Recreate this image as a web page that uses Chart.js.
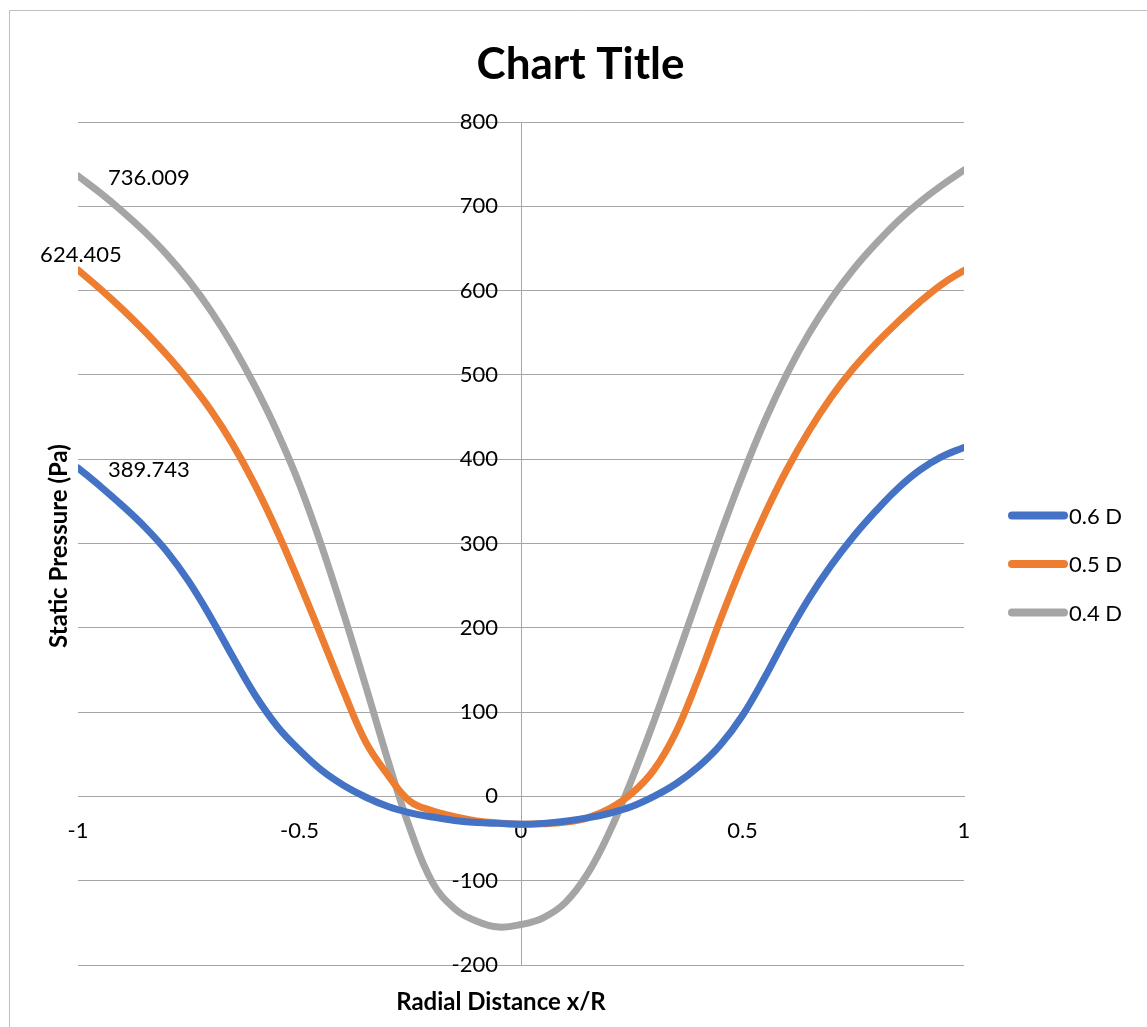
<!DOCTYPE html>
<html>
<head>
<meta charset="utf-8">
<script src="https://cdn.jsdelivr.net/npm/chart.js@4.4.1/dist/chart.umd.min.js"></script>
<style>
html,body{margin:0;padding:0;background:#ffffff;}
canvas{display:block;}
</style>
</head>
<body>
<canvas id="c" width="1147" height="1027"></canvas>
<script>
// ---------- DATA ----------
const xValues = [-1.00,-0.95,-0.90,-0.85,-0.80,-0.75,-0.70,-0.65,-0.60,-0.55,-0.50,-0.45,-0.40,-0.35,-0.30,-0.25,-0.20,-0.15,-0.10,-0.05,
                 0.00,0.05,0.10,0.15,0.20,0.25,0.30,0.35,0.40,0.45,0.50,0.55,0.60,0.65,0.70,0.75,0.80,0.85,0.90,0.95,1.00];
const series06 = [389.743,368,345,320,291,255,212,165,120,83,55,31,13,-1,-12,-19.5,-24.5,-28.5,-31,-32,
                  -33,-32,-29.5,-25.5,-20,-12,0,15,35,61,96,141,190,235,274,308,338,365,387,403,414];
const series05 = [624.405,602,578,552,524,493,458,417,369,314,253,189,124,64,25,-6,-17,-24,-29,-31.5,
                  -33,-32.5,-30.5,-25.5,-14.5,3.5,31.5,76.5,139.5,209.5,275.5,334.5,387.5,433.5,473.5,507.5,536.5,562.5,586.5,607.5,624];
const series04 = [736.009,716,694,670,643,612,576,534,486,432,370,297,216,130,42,-39,-102,-133,-148,-155,
                  -152,-144,-126,-92,-42,20,89,162,237,311,381,445,501,549,590,625,655,682,705,725,743];
const seriesNames = ['0.6 D', '0.5 D', '0.4 D'];
const xTickValues = [-1, -0.5, 0, 0.5, 1];
const yTickValues = [-200, -100, 0, 100, 200, 300, 400, 500, 600, 700, 800];
const chartTitle = 'Chart Title';
const xAxisTitle = 'Radial Distance x/R';
const yAxisTitle = 'Static Pressure (Pa)';

// ---------- STYLE ----------
const colors = ['#4472C4', '#ED7D31', '#A5A5A5'];
const FONT = 'Lato';
const gridColor = '#a6a6a6';
const yLabelAnchor = -0.052;   // y tick labels sit just left of the vertical axis
const labelStyle = [
  {dx: 30, dy: 9, align: 'left'},
  {dx: 3, dy: -8, align: 'center'},
  {dx: 30, dy: 9, align: 'left'}
];

const seriesList = [series06, series05, series04];
const datasets = seriesList.map((s, i) => ({
  label: seriesNames[i],
  data: xValues.map((x, k) => ({x: x, y: s[k]})),
  borderColor: colors[i],
  backgroundColor: colors[i],
  borderWidth: 7,
  borderCapStyle: 'round',
  borderJoinStyle: 'round',
  pointRadius: 0,
  pointHoverRadius: 0,
  showLine: true,
  tension: 0.4,
  fill: false
}));

const decorPlugin = {
  id: 'decor',
  beforeDraw(chart) {
    const ctx = chart.ctx;
    ctx.save();
    ctx.fillStyle = '#ffffff';
    ctx.fillRect(0, 0, chart.width, chart.height);
    ctx.strokeStyle = '#bfbfbf';
    ctx.lineWidth = 1;
    ctx.beginPath();
    ctx.moveTo(9.5, chart.height);
    ctx.lineTo(9.5, 10.5);
    ctx.lineTo(chart.width, 10.5);
    ctx.stroke();
    ctx.restore();
  },
  afterDatasetsDraw(chart) {
    const ctx = chart.ctx;
    ctx.save();
    ctx.fillStyle = '#000000';
    ctx.font = '22px ' + FONT;
    ctx.textBaseline = 'alphabetic';
    chart.data.datasets.forEach((ds, i) => {
      const pt = chart.getDatasetMeta(i).data[0];
      const st = labelStyle[i];
      ctx.textAlign = st.align;
      ctx.fillText(String(ds.data[0].y), pt.x + st.dx, pt.y + st.dy);
    });
    ctx.font = 'bold 44px ' + FONT;
    ctx.textAlign = 'center';
    ctx.fillText(chartTitle, 580.5, 79);
    ctx.font = 'bold 24px ' + FONT;
    ctx.textBaseline = 'middle';
    ctx.fillText(xAxisTitle, 501, 1002);
    ctx.save();
    ctx.translate(59, 546);
    ctx.rotate(-Math.PI / 2);
    ctx.fillText(yAxisTitle, 0, 0);
    ctx.restore();
    ctx.font = '22px ' + FONT;
    ctx.textAlign = 'left';
    ctx.textBaseline = 'middle';
    chart.data.datasets.forEach((ds, i) => {
      const y = 515.5 + i * 48.5;
      ctx.strokeStyle = ds.borderColor;
      ctx.lineWidth = 8;
      ctx.lineCap = 'round';
      ctx.beginPath();
      ctx.moveTo(1012, y);
      ctx.lineTo(1064, y);
      ctx.stroke();
      ctx.fillStyle = '#000000';
      ctx.fillText(ds.label, 1069, y + 1);
    });
    ctx.restore();
  }
};

new Chart(document.getElementById('c'), {
  type: 'scatter',
  data: {datasets: datasets},
  plugins: [decorPlugin],
  options: {
    responsive: false,
    devicePixelRatio: 1,
    animation: false,
    events: [],
    layout: {padding: {left: 78, right: 183, top: 122, bottom: 62}},
    plugins: {
      legend: {display: false},
      title: {display: false},
      tooltip: {enabled: false}
    },
    scales: {
      x: {
        type: 'linear',
        min: -1, max: 1,
        position: {y: 0},
        afterBuildTicks: (s) => { s.ticks = xTickValues.map(v => ({value: v})); },
        grid: {
          display: true,
          drawTicks: false,
          lineWidth: 1,
          color: (c) => (c.tick && c.tick.value === 0) ? gridColor : 'rgba(0,0,0,0)'
        },
        border: {display: true, color: gridColor, width: 1},
        ticks: {
          color: '#000000',
          font: {family: FONT, size: 22},
          padding: 21,
          maxRotation: 0,
          autoSkip: false,
          callback: (v) => String(v)
        }
      },
      y: {
        type: 'linear',
        min: -200, max: 800,
        position: {x: yLabelAnchor},
        afterBuildTicks: (s) => { s.ticks = yTickValues.map(v => ({value: v})); },
        grid: {display: true, color: gridColor, lineWidth: 1, drawTicks: false},
        border: {display: false},
        ticks: {
          color: '#000000',
          font: {family: FONT, size: 22},
          autoSkip: false,
          callback: (v) => String(v)
        }
      }
    }
  }
});
</script>
</body>
</html>
